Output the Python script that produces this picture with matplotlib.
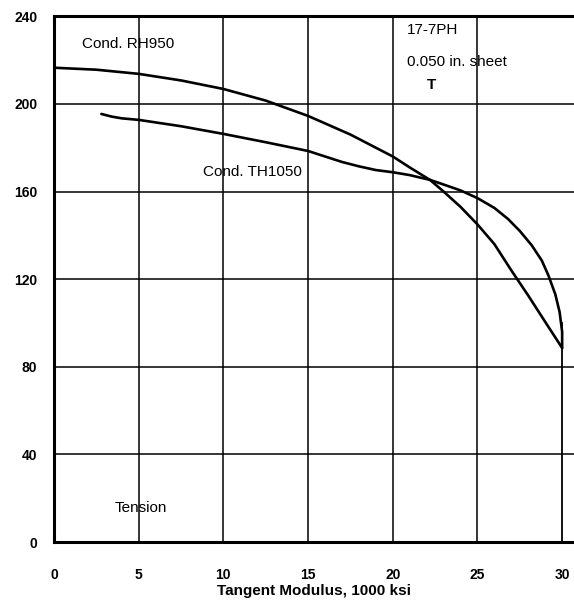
import matplotlib
matplotlib.use("Agg")
import matplotlib.pyplot as plt

# Tangent modulus curves for 17-7PH sheet in tension
rh950_x = [0, 2.5, 5, 7.5, 10, 12.5, 15, 17.5, 20, 21, 22.2, 23, 24, 25, 26, 27, 28, 29, 30]
rh950_y = [216.5, 215.6, 213.7, 210.7, 206.8, 201.5, 194.5, 186, 176, 171, 165.3, 160, 153, 145, 136, 124, 112.5, 100.5, 88.6]

th1050_x = [2.8, 3.4, 4, 5, 7.5, 10, 12.5, 15, 17, 18, 19, 20, 21, 22.2, 23, 24, 25, 26, 26.8, 27.5, 28.2, 28.8,
            29.2, 29.6, 29.85, 30, 30]
th1050_y = [195.4, 194.2, 193.4, 192.7, 189.8, 186.3, 182.5, 178.5, 173.5, 171.5, 169.8, 168.8, 167.5, 165.3,
            163.2, 160.5, 157, 152.5, 147.5, 142, 135.5, 128.5, 121.5, 113, 105, 96, 88.6]

x_ticks = [0, 5, 10, 15, 20, 25, 30]
y_ticks = [0, 40, 80, 120, 160, 200, 240]

plt.rcParams["font.family"] = ["Liberation Sans", "DejaVu Sans"]

fig = plt.figure(figsize=(5.74, 6.01), dpi=100)
ax = fig.add_axes([0.094, 0.098, 0.906, 0.875])
ax.set_xlim(0, 30.7)
ax.set_ylim(0, 240)

# grid
for xv in [5, 10, 15, 20, 25]:
    ax.axvline(xv, color="black", lw=1.1, zorder=1)
ax.plot([30, 30], [0, 100], color="black", lw=1.3, zorder=1)
for yv in [40, 80, 120, 160, 200]:
    ax.axhline(yv, color="black", lw=1.1, zorder=1)

ax.plot(rh950_x, rh950_y, color="black", lw=1.9, zorder=3, solid_capstyle="round", solid_joinstyle="round")
ax.plot(th1050_x, th1050_y, color="black", lw=1.9, zorder=3, solid_capstyle="round", solid_joinstyle="round")

for side in ["left", "bottom", "top"]:
    ax.spines[side].set_linewidth(2.2)
ax.spines["right"].set_visible(False)

ax.set_xticks(x_ticks)
ax.set_yticks(y_ticks)
ax.tick_params(length=0, labelsize=10)
ax.tick_params(axis="y", pad=12)
ax.tick_params(axis="x", pad=19)
for lbl in ax.get_xticklabels() + ax.get_yticklabels():
    lbl.set_fontweight("bold")

ax.set_xlabel("Tangent Modulus, 1000 ksi", fontsize=11, fontweight="bold", labelpad=1)

txt = dict(fontsize=11, color="black", zorder=4)
ax.text(1.65, 227.5, "Cond. RH950", ha="left", va="center", **txt)
ax.text(8.8, 169, "Cond. TH1050", ha="left", va="center", **txt)
ax.text(20.85, 233.5, "17-7PH", ha="left", va="center", **txt)
ax.text(20.85, 219, "0.050 in. sheet", ha="left", va="center", **txt)
ax.text(22.3, 208.5, "T", ha="center", va="center", fontweight="bold", **txt)
ax.text(5.1, 15.5, "Tension", ha="center", va="center", **txt)

fig.savefig("out.png", dpi=100)
